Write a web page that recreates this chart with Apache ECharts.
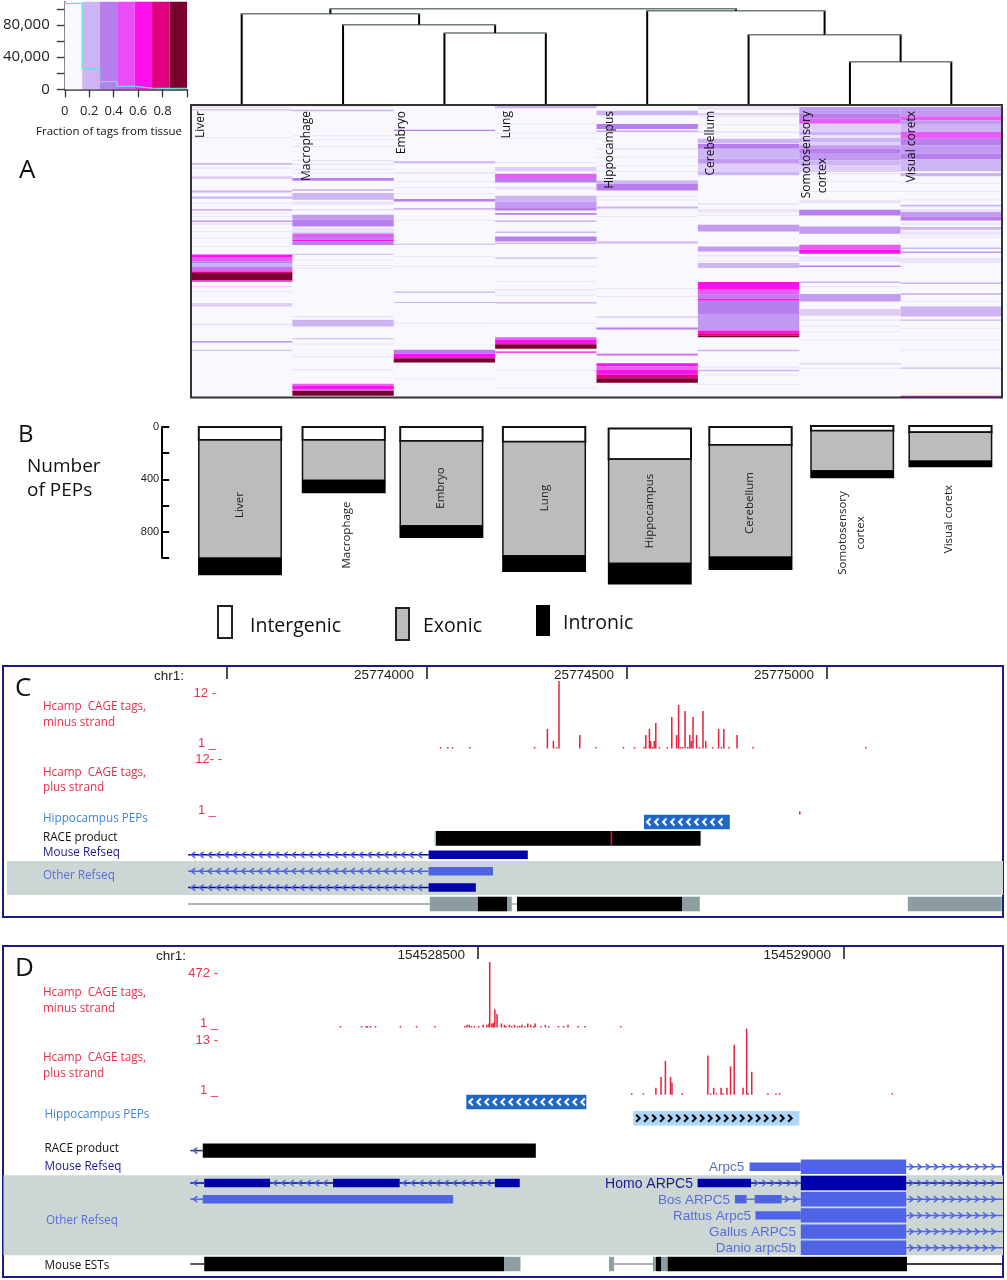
<!DOCTYPE html>
<html><head><meta charset="utf-8">
<style>html,body{margin:0;padding:0;background:#fff}#c{width:1007px;height:1280px}</style>
<script src="https://cdn.jsdelivr.net/npm/echarts@6/dist/echarts.min.js"></script>
</head><body><div id="c"></div>
<script>
// ---------- DATA ----------
const tissues = ['Liver','Macrophage','Embryo','Lung','Hippocampus','Cerebellum','Somotosensory cortex','Visual coretx'];
// Panel A histogram
const histEdges = [0,1/7,2/7,3/7,4/7,5/7,6/7,1];
const histCounts = [107000,25600,9500,3700,1500,1000,1200];
const histTop = 109000;
// Dendrogram merges: [childA, childB, height]; leaf = 0..7, node = 'm'+k
const merges = [[6,7,42.3],[5,'m0',69.3],[4,'m1',93.3],[2,3,71],[1,'m3',79.3],[0,'m4',90.3],['m5','m2',95.3]];
// Heat map stripes per tissue: [rowStart,rowEnd,level]
const heatLiver = [[320,325,1],[328,333,8],[413,416,1],[490,495,2],[503,507,1],[530,538,8],[572,578,2],[590,597,2],[609,612,1],[628,633,2],[639,642,1],[649,652,1],[662,667,9],[670,675,1],[694,697,1],[714,717,1],[739,742,1],[764,772,5],[772,785,4],[785,790,3],[790,800,2],[800,808,3],[808,815,4],[815,820,6],[820,842,7],[842,846,5],[859,862,1],[874,877,1],[910,920,8],[972,977,1],[1024,1028,3],[1050,1053,2]];
const heatMacrophage = [[318,322,1],[330,335,2],[407,410,1],[419,422,1],[439,442,1],[481,485,1],[492,497,1],[508,511,1],[519,522,1],[535,543,3],[568,573,2],[580,600,2],[605,615,1],[628,633,1],[645,660,9],[660,680,3],[685,698,1],[698,702,2],[702,712,4],[712,720,3],[720,725,5],[725,736,3],[762,765,2],[779,782,1],[796,799,1],[804,807,1],[949,953,1],[960,980,2],[1015,1018,2],[1031,1034,1],[1069,1072,1],[1108,1112,1],[1152,1158,4],[1158,1170,5],[1172,1188,7]];
const heatEmbryo = [[390,394,3],[485,491,2],[517,522,1],[544,547,1],[562,565,1],[580,583,1],[598,605,3],[625,630,2],[660,663,1],[732,735,2],[769,772,1],[799,802,1],[875,879,2],[907,910,2],[969,972,1],[1050,1062,3],[1062,1075,5],[1075,1088,7],[1135,1138,1]];
const heatLung = [[318,326,2],[371,374,1],[399,402,1],[414,417,1],[487,490,1],[502,515,8],[522,535,4],[535,548,3],[560,570,1],[588,605,2],[605,625,9],[625,632,3],[640,645,3],[662,667,2],[695,700,2],[710,725,3],[729,733,2],[773,777,2],[799,802,1],[844,847,1],[868,872,1],[884,887,1],[907,911,2],[968,972,1],[1012,1020,4],[1020,1033,5],[1033,1047,7],[1055,1059,5],[1109,1112,1],[1162,1165,1]];
const heatHippocampus = [[333,347,2],[373,388,3],[392,398,2],[445,450,1],[471,474,1],[497,500,1],[514,517,1],[542,553,2],[553,572,3],[589,592,1],[599,602,1],[620,626,2],[649,652,1],[725,731,2],[865,868,1],[889,892,1],[950,953,2],[983,989,3],[1062,1067,4],[1090,1100,5],[1100,1110,4],[1110,1125,5],[1125,1135,6],[1135,1149,7]];
const heatCerebellum = [[320,330,1],[340,347,8],[349,352,1],[374,377,1],[395,400,1],[417,430,2],[432,447,3],[447,477,2],[477,492,9],[492,517,8],[517,527,2],[610,615,1],[628,638,1],[645,648,1],[675,695,9],[740,755,9],[765,770,1],[782,785,1],[790,805,2],[847,870,5],[870,885,4],[885,897,3],[897,903,5],[903,945,3],[945,992,9],[992,1000,5],[1000,1008,6],[1008,1012,7],[1050,1054,2],[1100,1104,1],[1110,1114,2],[1124,1127,1],[1152,1155,1]];
const heatSomato = [[322,342,9],[342,357,3],[357,372,4],[372,397,8],[397,407,2],[407,415,1],[415,428,2],[428,437,8],[437,447,9],[447,460,3],[460,482,9],[482,496,2],[496,517,8],[520,524,1],[544,547,1],[574,577,1],[600,610,1],[630,647,3],[680,702,9],[735,750,4],[750,762,5],[770,785,1],[797,802,3],[845,850,2],[859,862,1],[883,905,9],[928,948,8],[959,962,1],[977,980,1],[994,997,1],[1019,1022,1],[1090,1094,8],[1104,1107,1]];
const heatVisual = [[322,350,9],[350,362,4],[362,375,9],[375,397,2],[397,417,4],[417,437,3],[437,462,9],[462,479,3],[479,515,2],[520,530,2],[549,552,1],[574,577,1],[599,602,1],[615,620,2],[628,637,1],[637,650,9],[650,662,3],[670,675,1],[682,690,2],[695,707,1],[712,715,1],[743,748,2],[755,760,9],[775,790,1],[848,853,2],[880,885,2],[904,907,1],[920,950,2],[959,963,2],[984,987,1],[1019,1022,1],[1049,1052,1],[1103,1107,2],[1188,1193,5]];
const heatBands = [heatLiver,heatMacrophage,heatEmbryo,heatLung,heatHippocampus,heatCerebellum,heatSomato,heatVisual];
// Panel B counts
const pepIntergenic = [100,100,107,112,235,138,36,48];
const pepExonic = [901,308,648,872,795,856,306,220];
const pepIntronic = [133,99,94,125,163,99,58,48];
// Panel C (bp relative to 25774000): [position,tags]
const cMinusTags = [[34,1],[52,1],[64,1],[107,1],[269,1],[301,4],[316,2],[324,1],[330,12],[382,3],[422,1],[491,1],[519,1],[543,1],[547,3],[556,4],[559,2],[564,1],[568,2],[572,5],[581,1],[601,1],[612,6],[624,3],[629,8],[634,1],[639,1],[645,7],[652,1],[657,3],[661,2],[665,6],[674,3],[681,1],[690,7],[697,2],[714,1],[729,4],[736,1],[742,4],[755,1],[775,3],[815,1],[1097,1]];
const cPlusTags = [[932,1.25]];
const cLanes = ['Hippocampus PEPs','RACE product','Mouse Refseq','Other Refseq a','Other Refseq b','Mouse ESTs'];
const cFeatures = [[0,542.5,757,'pep','pepDark'],[1,22,684,'thick','black'],[1,459,463,'thick','red'],[1,19,22,'thick','cyan'],[2,-597,4,'intronL','navy'],[2,4,252,'medium','navy'],[3,-597,4,'intronL','blue'],[3,4,165,'medium','blue'],[4,-597,4,'intronL','navy'],[4,4,122,'medium','navy'],[5,-597,7,'line','grey'],[5,7,127,'thick','grey'],[5,127,201,'thick','black'],[5,201,212,'thick','grey'],[5,212,225,'line','grey'],[5,225,637.5,'thick','black'],[5,637.5,682,'thick','grey'],[5,1202,1437,'thick','grey']];
// Panel D (bp relative to 154528500)
const dMinusTags = [[-188,1],[-159,1],[-153,1],[-151,1],[-147,1],[-140,1],[-106,1],[-84,1],[-59,1],[-18,1],[-15,10],[-12,10],[-9,1],[-5,1],[1,1],[7,10],[12,10],[15,20],[16,472],[19,20],[21,25],[23,125],[26,90],[32,20],[36,10],[38,1],[43,10],[46,1],[50,10],[54,1],[57,1],[60,10],[64,1],[68,20],[72,10],[76,1],[78,20],[86,1],[92,10],[97,1],[110,1],[117,1],[123,10],[137,1],[146,1],[195,1]];
const dPlusTags = [[210,1],[226,1],[243,2],[250,4],[256,7],[263,4],[265,3],[279,1],[314,8],[318,1],[322,2],[326,1],[332,2],[335,1],[340,2],[345,6],[350,10],[362,2],[367,13],[369,1],[374,5],[396,1],[407,1],[412,1],[566,1]];
const dLanes = ['PEPs minus','PEPs plus','spacer','RACE product','Arpc5','Refseq Homo','Refseq Bos','Rattus','Gallus','Danio','Mouse ESTs'];
const dFeatures = [[0,-16,148,'pep','pepDark'],[1,212,439,'pep','pepLight'],[3,-393,-376,'intronL','ink'],[3,-376,79,'thick','black'],[4,371,441,'medium','blue'],[4,441,585,'thick','blue'],[4,585,717,'intronR','blue'],[5,-393,-374,'intronL','navy'],[5,-374,-284,'medium','navy'],[5,-284,-198,'intronL','navy'],[5,-198,-107,'medium','navy'],[5,-107,23,'intronL','navy'],[5,23,57,'medium','navy'],[5,300,373,'medium','navy'],[5,373,441,'intronR','navy'],[5,441,585,'thick','navy'],[5,585,717,'intronR','navy'],[6,-393,-376,'intronL','blue'],[6,-376,-34,'medium','blue'],[6,351,367,'medium','blue'],[6,367,378,'line','blue'],[6,378,415,'medium','blue'],[6,415,441,'intronR','blue'],[6,441,585,'thick','blue'],[6,585,717,'intronR','blue'],[7,379,441,'medium','blue'],[7,441,585,'thick','blue'],[7,585,717,'intronR','blue'],[8,441,585,'thick','blue'],[8,585,717,'intronR','blue'],[9,441,585,'thick','blue'],[9,585,717,'intronR','blue'],[10,-393,-374,'line','black'],[10,-374,36,'thick','black'],[10,36,58,'thick','grey'],[10,179,186,'thick','grey'],[10,186,239,'line','grey'],[10,239,243,'thick','grey'],[10,243,250,'thick','black'],[10,250,259,'thick','grey'],[10,259,586,'thick','black'],[10,586,717,'line','black']];

// ---------- STYLE / LAYOUT ----------
const levelColors = ['#f8f8fe','#ece2fa','#cdb4f3','#b87eee','#e65cf4','#ff10ee','#e0007f','#7a0030','#dfcff8','#c29af1'];
const histColors = ['#f8f8fe','#cdb4f3','#b87eee','#ea4cf6','#ff10ee','#e0007f','#7a0030'];
const tones = {black:'#000',ink:'#333',navy:'#0000ad',blue:'#4f63e6',grey:'#8d9ea3',red:'#d8132a',cyan:'#5fd6d6',pepDark:'#1f68c8',pepLight:'#aed6f8'};
const pepNudgeX = [0,2,-2,-1,3,2,2,-1.5], pepNudgeY = [0,0,0,0,1.5,0,-1,-1];
const UI = '"Open Sans"', HV = '"Liberation Sans"', RED = '#e8304a', SKY='#3f86d0', NAVY='#1a1a8c', PERI='#5a6cd8';
const hidden = {show:false};

// ---------- RENDER ITEMS ----------
function heatItem(params, api){
  const a = api.coord([api.value(0), api.value(1)]), b = api.coord([api.value(0), api.value(2)]);
  const w = api.size([1,0])[0];
  return {type:'rect', shape:{x:a[0]-w/2, y:a[1], width:w, height:b[1]-a[1]}, style:{fill:levelColors[api.value(3)]}};
}
function histBandItem(params, api){
  const a = api.coord([api.value(0), histTop]), b = api.coord([api.value(1), 0]);
  return {type:'rect', shape:{x:a[0], y:a[1], width:b[0]-a[0], height:b[1]-a[1]}, style:{fill:histColors[params.dataIndex]}};
}
const leafPos = i => i + 0.5;
const nodes = [];
merges.forEach(m => {
  const get = c => typeof c === 'number' ? {x:leafPos(c), h:0} : nodes[+c.slice(1)];
  const A = get(m[0]), B = get(m[1]);
  nodes.push({x:(A.x+B.x)/2, h:m[2], A, B});
});
function dendroItem(params, api){
  const n = nodes[params.dataIndex];
  const L = api.coord([n.A.x, n.A.h]), R = api.coord([n.B.x, n.B.h]);
  const TL = api.coord([n.A.x, n.h]), TR = api.coord([n.B.x, n.h]);
  return {type:'group', children:[
    {type:'line', shape:{x1:TL[0],y1:TL[1],x2:L[0],y2:L[1]}, style:{stroke:'#000',lineWidth:2}},
    {type:'line', shape:{x1:TR[0],y1:TR[1],x2:R[0],y2:R[1]}, style:{stroke:'#000',lineWidth:2}},
    {type:'line', shape:{x1:TL[0]-1,y1:TL[1],x2:TR[0]+1,y2:TR[1]}, style:{stroke:'#6f7a7a',lineWidth:1.5}}
  ]};
}
function pepItem(params, api){
  const i = params.dataIndex;
  const c = api.coord([i, 0]), w = api.size([1,0])[0]*0.81;
  const x = c[0] + pepNudgeX[i] - w/2, d = pepNudgeY[i];
  const y0 = c[1] + d, y1 = api.coord([i, pepIntergenic[i]])[1] + d;
  const y2 = api.coord([i, pepIntergenic[i]+pepExonic[i]])[1] + d;
  const y3 = api.coord([i, pepIntergenic[i]+pepExonic[i]+pepIntronic[i]])[1] + d;
  return {type:'group', children:[
    {type:'rect', shape:{x, y:y0, width:w, height:y1-y0}, style:{fill:'#fff',stroke:'#111',lineWidth:2}},
    {type:'rect', shape:{x, y:y1, width:w, height:y2-y1}, style:{fill:'#bcbcbc',stroke:'#111',lineWidth:1.5}},
    {type:'rect', shape:{x:x-0.75, y:y2, width:w+1.5, height:y3-y2}, style:{fill:'#000'}}
  ]};
}
function tagItem(params, api){
  const p = api.coord([api.value(0), api.value(1)]);
  const bottom = params.coordSys.y + params.coordSys.height;
  return {type:'rect', shape:{x:p[0]-0.75, y:p[1], width:1.5, height:bottom-p[1]}, style:{fill:'#e6203c'}};
}
function chevrons(x0, x1, cy, dir, step, w, h, color, lw){
  const out = [];
  for(let x = x0 + 3; x < x1 - w; x += step){
    const tip = dir < 0 ? x : x + w, arm = dir < 0 ? x + w : x;
    out.push({type:'polyline', shape:{points:[[arm,cy-h],[tip,cy],[arm,cy+h]]}, style:{stroke:color, fill:null, lineWidth:lw}});
  }
  return out;
}
function trackItem(features){
  return function(params, api){
    const f = features[params.dataIndex];
    const a = api.coord([f[1], f[0]]), b = api.coord([f[2], f[0]]);
    const band = api.size([0,1])[1], color = tones[f[4]], cy = a[1];
    const rect = frac => ({type:'rect', shape:{x:a[0], y:cy-band*frac/2, width:b[0]-a[0], height:band*frac}, style:{fill:color}});
    const line = lw => ({type:'line', shape:{x1:a[0],y1:cy,x2:b[0],y2:cy}, style:{stroke:color,lineWidth:lw}});
    switch(f[3]){
      case 'thick': return rect(0.89);
      case 'medium': return rect(0.52);
      case 'line': return line(1.3);
      case 'pep': return {type:'group', children:[rect(0.89)].concat(
        chevrons(a[0], b[0], cy, f[4]==='pepDark'?-1:1, 8, 3.5, 3.5, f[4]==='pepDark'?'#fff':'#000', 2))};
      case 'intronL': return {type:'group', children:[line(1.5)].concat(chevrons(a[0], b[0], cy, -1, 8.4, 4, 3, '#4f63e6', 1.5))};
      case 'intronR': return {type:'group', children:[line(1.5)].concat(chevrons(a[0], b[0], cy, 1, 8.2, 4, 3, '#4f63e6', 1.5))};
    }
  };
}

// ---------- CHART ----------
const grids = [
  {left:64.3, top:1.7, width:122.7, height:87.6},               // 0 histogram
  {left:191, top:0, width:811, height:104},                      // 1 dendrogram
  {left:191, top:105, width:811, height:292.5, show:true, backgroundColor:levelColors[0], borderWidth:0}, // 2 heat
  {left:189.15, top:427, width:813.6, height:130.8},             // 3 PEP
  {left:3, top:666, width:1000, height:251, show:true, borderColor:'#1a1a8c', borderWidth:2},  // 4 C frame
  {left:3, top:681, width:1000, height:67.5},                    // 5 C minus
  {left:3, top:747, width:1000, height:67.5},                    // 6 C plus
  {left:3, top:813.8, width:1000, height:98.4},                  // 7 C tracks
  {left:3, top:946, width:1000, height:331, show:true, borderColor:'#1a1a8c', borderWidth:2},  // 8 D frame
  {left:3, top:962, width:1000, height:65.5},                    // 9 D minus
  {left:3, top:1028.7, width:1000, height:66},                   // 10 D plus
  {left:3, top:1093.9, width:1000, height:178.2}                 // 11 D tracks
];
const cX = {min:-1060, max:1440}, dX = {min:-648.9, max:717.2};
function ruler(g, ext, base, ticks, labels){
  return {type:'value', gridIndex:g, position:'top', min:ext.min, max:ext.max, splitLine:hidden,
    axisLine:{show:false,onZero:false},
    axisTick:{show:true, inside:true, length:13, customValues:ticks, lineStyle:{color:'#222',width:1.6}},
    axisLabel:{show:true, inside:true, margin:2, customValues:labels, align:'right', padding:[0,13,0,0],
      fontFamily:HV, fontSize:13.5, color:'#222', formatter:v=>String(base+v)}};
}
const plainX = (g,ext)=>({type:'value',gridIndex:g,min:ext.min,max:ext.max,show:false});
const plainY = (g,min,max,inverse)=>({type:'value',gridIndex:g,min,max,inverse:!!inverse,show:false});
const xAxes = [
  {type:'value',gridIndex:0,min:0,max:1,splitLine:hidden,
    axisLine:{show:true,onZero:false,lineStyle:{color:'#333',width:1.5}},
    axisTick:{length:8,customValues:[0,.2,.4,.6,.8,1],lineStyle:{color:'#333',width:1.3}},
    axisLabel:{customValues:[0,.2,.4,.6,.8],margin:15,fontFamily:UI,fontSize:13,color:'#222',formatter:v=>v===0?'0':v.toFixed(1)}},
  {type:'value',gridIndex:1,min:0,max:8,show:false},
  {type:'category',gridIndex:2,data:tissues,show:false},
  {type:'category',gridIndex:3,data:tissues,show:false},
  ruler(4,cX,25774000,[-500,0,500,1000],[0,500,1000]),
  plainX(5,cX),plainX(6,cX),plainX(7,cX),
  ruler(8,dX,154528500,[0,500],[0,500]),
  plainX(9,dX),plainX(10,dX),plainX(11,dX)
];
const yAxes = [
  {type:'value',gridIndex:0,min:0,max:histTop,splitLine:hidden,
    axisLine:{show:true,lineStyle:{color:'#333',width:1.5}},
    axisTick:{show:true,length:8,customValues:[0,20000,40000,60000,80000,100000],lineStyle:{color:'#333',width:1.3}},
    axisLabel:{customValues:[0,40000,80000],margin:15,fontFamily:UI,fontSize:15,color:'#222'}},
  plainY(1,0,104),
  plainY(2,316,1193,true),
  {type:'value',gridIndex:3,min:0,max:1000,inverse:true,offset:27,splitLine:hidden,
    axisLine:{show:true,lineStyle:{color:'#000',width:2}},
    axisTick:{show:true,inside:true,length:7,customValues:[0,200,400,600,800,1000],lineStyle:{color:'#000',width:2}},
    axisLabel:{customValues:[0,400,800],margin:3,fontFamily:HV,fontSize:11,color:'#222'}},
  plainY(4,0,1),
  plainY(5,0.75,12),
  plainY(6,0.75,12),
  {type:'category',gridIndex:7,data:cLanes,inverse:true,show:false},
  plainY(8,0,1),
  plainY(9,-10,472),
  plainY(10,0.72,13),
  {type:'category',gridIndex:11,data:dLanes,inverse:true,show:false}
];
const heatData = [];
heatBands.forEach((bands,i)=>bands.forEach(b=>heatData.push([i,b[0],b[1],b[2]])));
const series = [
  {type:'custom',xAxisIndex:0,yAxisIndex:0,renderItem:histBandItem,z:1,silent:true,
    data:histCounts.map((_,i)=>[histEdges[i],histEdges[i+1]])},
  {type:'line',xAxisIndex:0,yAxisIndex:0,step:'end',symbol:'none',z:3,silent:true,lineStyle:{color:'#63e3e3',width:1.3},
    data:histCounts.map((v,i)=>[histEdges[i],v]).concat([[1,histCounts[6]]])},
  {type:'custom',xAxisIndex:1,yAxisIndex:1,renderItem:dendroItem,data:merges.map((m,i)=>[i]),silent:true},
  {type:'custom',xAxisIndex:2,yAxisIndex:2,renderItem:heatItem,data:heatData,silent:true},
  {type:'custom',xAxisIndex:3,yAxisIndex:3,renderItem:pepItem,data:tissues.map((t,i)=>[i]),silent:true},
  {type:'custom',xAxisIndex:5,yAxisIndex:5,renderItem:tagItem,data:cMinusTags,silent:true},
  {type:'custom',xAxisIndex:6,yAxisIndex:6,renderItem:tagItem,data:cPlusTags,silent:true},
  {type:'custom',xAxisIndex:7,yAxisIndex:7,renderItem:trackItem(cFeatures),data:cFeatures.map((f,i)=>[i]),silent:true},
  {type:'custom',xAxisIndex:9,yAxisIndex:9,renderItem:tagItem,data:dMinusTags,silent:true},
  {type:'custom',xAxisIndex:10,yAxisIndex:10,renderItem:tagItem,data:dPlusTags,silent:true},
  {type:'custom',xAxisIndex:11,yAxisIndex:11,renderItem:trackItem(dFeatures),data:dFeatures.map((f,i)=>[i]),silent:true}
];

// ---------- TEXT & DECORATION ----------
const g = [];
function T(x,y,text,o={}){
  g.push({type:'text',x,y,z:100,rotation:o.rot?Math.PI/2:0,silent:true,
    style:{text,fill:o.color||'#111',font:(o.weight?o.weight+' ':'')+(o.size||13)+'px '+(o.font||UI),textAlign:o.align||'left',textVerticalAlign:'middle'}});
}
function R(x,y,w,h,fill,stroke,lw,z){ g.push({type:'rect',z:z||0,silent:true,shape:{x,y,width:w,height:h},style:{fill,stroke:stroke||null,lineWidth:lw||0}}); }
R(191,105,811,292.5,null,'#333',2,50);
R(7,861,996,34,'#ccd7d5');
R(3.5,1175.3,999.5,80,'#ccd7d5');
R(218,606,14,32,'#fff','#222',2);
R(396,608,13,32,'#bcbcbc','#222',2);
R(536,605,14,31,'#000');
T(36,132,'Fraction of tags from tissue',{size:11.5});
T(19,171,'A',{size:26});
T(18,435,'B',{size:24});
T(27,466.5,'Number',{size:19});
T(27,491,'of PEPs',{size:19});
T(250,626,'Intergenic',{size:19.5});
T(423,626,'Exonic',{size:19.5});
T(563,623,'Intronic',{size:19.5});
// heat labels
[[201,111,'Liver'],[307,111,'Macrophage'],[402,111,'Embryo'],[507,111,'Lung'],[610,111,'Hippocampus'],[710.7,111,'Cerebellum'],[806.7,111,'Somotosensory'],[822.7,158,'cortex'],[912,111,'Visual coretx']]
  .forEach(a=>T(a[0],a[1],a[2],{rot:1,align:'right',size:12,color:'#111'}));
// PEP bar labels
[[240,505,'Liver'],[347,535,'Macrophage'],[441,488,'Embryo'],[545,498,'Lung'],[650,511,'Hippocampus'],[750,503,'Cerebellum'],[843,533,'Somotosensory'],[861,533,'cortex'],[949,519,'Visual coretx']]
  .forEach(a=>T(a[0],a[1],a[2],{rot:1,align:'center',size:11.5,color:'#222'}));
// Panel C text
T(15,689,'C',{size:26});
T(154,676,'chr1:',{font:HV,size:13.5,color:'#222'});
T(216,693,'12 -',{font:HV,size:13,color:RED,align:'right'});
T(216,743,'1 _',{font:HV,size:13,color:RED,align:'right'});
T(222,759,'12- -',{font:HV,size:13,color:RED,align:'right'});
T(216,810,'1 _',{font:HV,size:13,color:RED,align:'right'});
T(43,707,'Hcamp  CAGE tags,',{size:11.7,color:RED});
T(43,722.6,'minus strand',{size:11.7,color:RED});
T(43,772.3,'Hcamp  CAGE tags,',{size:11.7,color:RED});
T(43,787.6,'plus strand',{size:11.7,color:RED});
T(43,819,'Hippocampus PEPs',{size:11.7,color:SKY});
T(43,838,'RACE product',{size:11.7,color:'#111'});
T(43,853,'Mouse Refseq',{size:11.7,color:NAVY});
T(43,876,'Other Refseq',{size:11.7,color:PERI});
// Panel D text
T(15,969,'D',{size:26});
T(156,956,'chr1:',{font:HV,size:13.5,color:'#222'});
T(218,973,'472 -',{font:HV,size:13,color:RED,align:'right'});
T(218,1023,'1 _',{font:HV,size:13,color:RED,align:'right'});
T(218,1040,'13 -',{font:HV,size:13,color:RED,align:'right'});
T(218,1090,'1 _',{font:HV,size:13,color:RED,align:'right'});
T(43,993,'Hcamp  CAGE tags,',{size:11.7,color:RED});
T(43,1008.7,'minus strand',{size:11.7,color:RED});
T(43,1058,'Hcamp  CAGE tags,',{size:11.7,color:RED});
T(43,1073.6,'plus strand',{size:11.7,color:RED});
T(44.5,1114.6,'Hippocampus PEPs',{size:11.7,color:SKY});
T(44.5,1149,'RACE product',{size:11.7,color:'#111'});
T(44.5,1167,'Mouse Refseq',{size:11.7,color:NAVY});
T(46,1221,'Other Refseq',{size:11.7,color:PERI});
T(44.5,1266,'Mouse ESTs',{size:11.7,color:'#111'});
T(744.3,1167.7,'Arpc5',{font:HV,size:13.5,color:PERI,align:'right'});
T(693,1183.7,'Homo ARPC5',{font:HV,size:14,color:NAVY,align:'right'});
T(730,1200,'Bos ARPC5',{font:HV,size:13.5,color:PERI,align:'right'});
T(751,1216,'Rattus Arpc5',{font:HV,size:13.5,color:PERI,align:'right'});
T(796,1232,'Gallus ARPC5',{font:HV,size:13.5,color:PERI,align:'right'});
T(796,1248.5,'Danio arpc5b',{font:HV,size:13.5,color:PERI,align:'right'});

const chart = echarts.init(document.getElementById('c'),null,{renderer:'canvas'});
chart.setOption({animation:false,backgroundColor:'#fff',grid:grids,xAxis:xAxes,yAxis:yAxes,series,graphic:{elements:g},tooltip:{show:false}});
</script></body></html>
